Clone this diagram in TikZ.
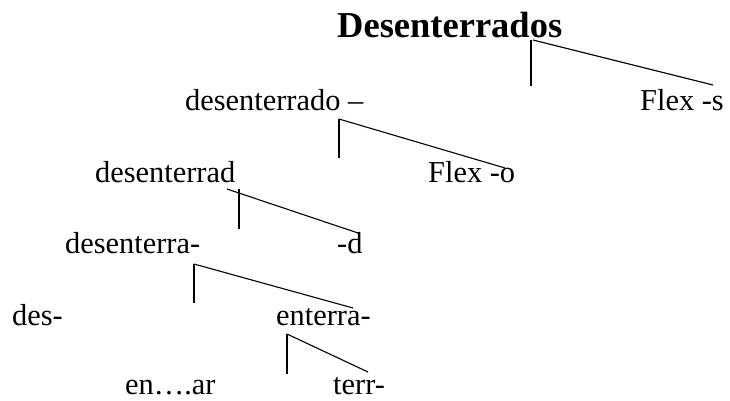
\documentclass[tikz,border=0pt]{standalone}
\usepackage{fontspec}
\setmainfont{Liberation Serif}
\begin{document}
\begin{tikzpicture}[x=1pt,y=-1pt,
  lbl/.style={anchor=base west,inner sep=0pt,font=\fontsize{30.4}{36}\selectfont},
  ttl/.style={anchor=base west,inner sep=0pt,font=\fontsize{36.5}{42}\selectfont\bfseries},
  br/.style={draw=black,line width=1.1pt}]
\useasboundingbox (0,0) rectangle (730,400);
% texts
\node[ttl] (t0) at (337,37) {Desenterrados};
\node[lbl] (a1) at (185,110) {desenterrado –};
\node[lbl] (b1) at (640,110) {Flex -s};
\node[lbl] (a2) at (95,182) {desenterrad};
\node[lbl] (b2) at (428,182) {Flex -o};
\node[lbl] (a3) at (65,253) {desenterra-};
\node[lbl] (b3) at (337,253) {-d};
\node[lbl] (a4) at (12,325) {des-};
\node[lbl] (b4) at (276,325) {enterra-};
\node[lbl] (a5) at (125,394) {en….ar};
\node[lbl] (b5) at (333,394) {terr-};
% branch points
\coordinate (p1) at (531,40);  \coordinate (v1) at (531,86);  \coordinate (d1s) at (533,40); \coordinate (d1) at (713,85);
\coordinate (p2) at (339,119); \coordinate (v2) at (339,158); \coordinate (d2) at (505,168);
\coordinate (p3) at (239,189); \coordinate (v3) at (239,229); \coordinate (d3s) at (227,189); \coordinate (d3) at (358,233);
\coordinate (p4) at (194,264); \coordinate (v4) at (194,303); \coordinate (d4) at (353,308);
\coordinate (p5) at (287,334); \coordinate (v5) at (287,374); \coordinate (d5) at (368,372);
\draw[br] (p1) -- (v1); \draw[br] (d1s) -- (d1);
\draw[br] (p2) -- (v2); \draw[br] (p2) -- (d2);
\draw[br] (p3) -- (v3); \draw[br] (d3s) -- (d3);
\draw[br] (p4) -- (v4); \draw[br] (p4) -- (d4);
\draw[br] (p5) -- (v5); \draw[br] (p5) -- (d5);
\end{tikzpicture}
\end{document}
